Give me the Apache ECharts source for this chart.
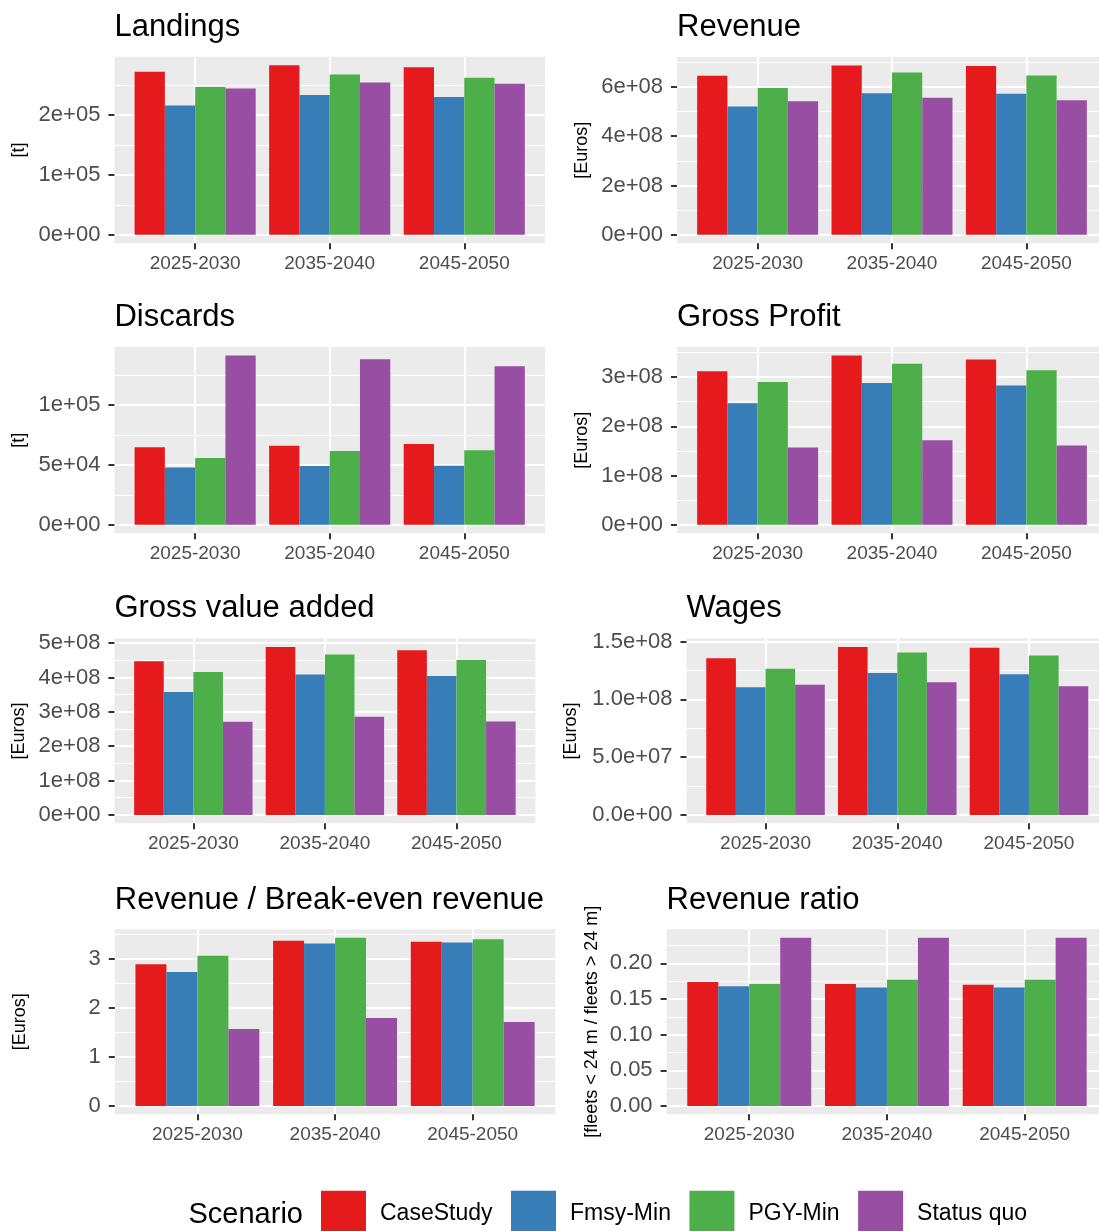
<!DOCTYPE html>
<html><head><meta charset="utf-8">
<script src="https://cdn.jsdelivr.net/npm/echarts@6/dist/echarts.min.js"></script>
<style>html,body{margin:0;padding:0;background:#fff;overflow:hidden;width:1099px;height:1231px}#c{width:1120px;height:1245px}</style>
</head><body><div id="c"></div>
<script>
// ---- data ----
const periods = ['2025-2030', '2035-2040', '2045-2050'];
const scenarios = ['CaseStudy', 'Fmsy-Min', 'PGY-Min', 'Status quo'];

// rows: CaseStudy, Fmsy-Min, PGY-Min, Status quo ; columns: periods
const landings = [[271800, 282900, 279600], [215500, 233100, 229800], [246400, 267400, 261900], [244200, 254100, 251900]];
const revenue = [[6.456e8, 6.87e8, 6.85e8], [5.21e8, 5.74e8, 5.72e8], [5.96e8, 6.58e8, 6.46e8], [5.42e8, 5.56e8, 5.46e8]];
const discards = [[64700, 66100, 67500], [47800, 49200, 49400], [55800, 61700, 62200], [141400, 138300, 132500]];
const grossProfit = [[3.12e8, 3.44e8, 3.36e8], [2.47e8, 2.88e8, 2.83e8], [2.90e8, 3.27e8, 3.14e8], [1.57e8, 1.72e8, 1.61e8]];
const grossValueAdded = [[4.47e8, 4.89e8, 4.79e8], [3.58e8, 4.09e8, 4.04e8], [4.16e8, 4.67e8, 4.51e8], [2.71e8, 2.86e8, 2.72e8]];
const wages = [[1.355e8, 1.454e8, 1.446e8], [1.104e8, 1.229e8, 1.218e8], [1.264e8, 1.406e8, 1.380e8], [1.127e8, 1.147e8, 1.113e8]];
const revenueBreakEven = [[2.89, 3.37, 3.35], [2.73, 3.31, 3.33], [3.06, 3.43, 3.40], [1.57, 1.79, 1.71]];
const revenueRatio = [[0.174, 0.171, 0.170], [0.168, 0.166, 0.166], [0.171, 0.177, 0.177], [0.236, 0.236, 0.236]];

// tick values and labels
const landingsTicks = [0, 1e5, 2e5];
const landingsLabels = ['0e+00', '1e+05', '2e+05'];
const revenueTicks = [0, 2e8, 4e8, 6e8];
const revenueLabels = ['0e+00', '2e+08', '4e+08', '6e+08'];
const discardsTicks = [0, 5e4, 1e5];
const discardsLabels = ['0e+00', '5e+04', '1e+05'];
const profitTicks = [0, 1e8, 2e8, 3e8];
const profitLabels = ['0e+00', '1e+08', '2e+08', '3e+08'];
const gvaTicks = [0, 1e8, 2e8, 3e8, 4e8, 5e8];
const gvaLabels = ['0e+00', '1e+08', '2e+08', '3e+08', '4e+08', '5e+08'];
const wagesTicks = [0, 5e7, 1e8, 1.5e8];
const wagesLabels = ['0.0e+00', '5.0e+07', '1.0e+08', '1.5e+08'];
const breakEvenTicks = [0, 1, 2, 3];
const breakEvenLabels = ['0', '1', '2', '3'];
const ratioTicks = [0, 0.05, 0.10, 0.15, 0.20];
const ratioLabels = ['0.00', '0.05', '0.10', '0.15', '0.20'];

// ---- layout ----
const panels = [
  {title: 'Landings', unit: '[t]', values: landings, ticks: landingsTicks, labels: landingsLabels, g: [114.4, 56.7, 430.6, 186.6], nameGap: 86},
  {title: 'Revenue', unit: '[Euros]', values: revenue, ticks: revenueTicks, labels: revenueLabels, g: [677, 57.0, 430, 186.3], nameGap: 86},
  {title: 'Discards', unit: '[t]', values: discards, ticks: discardsTicks, labels: discardsLabels, g: [114.4, 347.0, 430.6, 186.3], nameGap: 86},
  {title: 'Gross Profit', unit: '[Euros]', values: grossProfit, ticks: profitTicks, labels: profitLabels, g: [677, 347.0, 430, 186.3], nameGap: 86},
  {title: 'Gross value added', unit: '[Euros]', values: grossValueAdded, ticks: gvaTicks, labels: gvaLabels, g: [114.4, 638.5, 421, 184.8], nameGap: 86},
  {title: 'Wages', unit: '[Euros]', values: wages, ticks: wagesTicks, labels: wagesLabels, g: [686.5, 638.5, 421.5, 184.8], nameGap: 106},
  {title: 'Revenue / Break-even revenue', unit: '[Euros]', values: revenueBreakEven, ticks: breakEvenTicks, labels: breakEvenLabels, g: [114.8, 929.3, 440.5, 185], nameGap: 86},
  {title: 'Revenue ratio', unit: '[fleets < 24 m / fleets > 24 m]', values: revenueRatio, ticks: ratioTicks, labels: ratioLabels, g: [666.6, 929.3, 440.7, 185], nameGap: 66}
];
const titleTops = [12.3, 12.3, 302.3, 302.3, 593.2, 593.2, 885.3, 885.3];

const FONT = '"Liberation Sans", Arial, sans-serif';
const colors = ['#E41A1C', '#377EB8', '#4DAF4A', '#984EA3'];
const tickStyle = {color: '#333333', width: 2};

const option = {
  animation: false,
  backgroundColor: '#ffffff',
  color: colors,
  textStyle: {fontFamily: FONT},
  title: [],
  grid: [],
  xAxis: [],
  yAxis: [],
  series: [],
  legend: {
    data: scenarios,
    left: 321, top: 1190.7,
    orient: 'horizontal',
    itemWidth: 45, itemHeight: 45, itemGap: 18.5,
    icon: 'rect',
    selectedMode: false,
    padding: 0,
    textStyle: {fontSize: 23, color: '#000000', fontFamily: FONT, padding: [0, 0, 0, 9]}
  }
};

panels.forEach(function (p, i) {
  const all = [].concat.apply([], p.values);
  const m = Math.max.apply(null, all);
  const ymin = -0.05 * m, ymax = 1.05 * m;
  const step = p.ticks[1] - p.ticks[0];
  const minors = [];
  for (let k = -1; k < p.ticks.length; k++) {
    const v = p.ticks[0] + step * (k + 0.5);
    if (v > ymin && v < ymax) minors.push(v);
  }
  option.title.push({
    text: p.title, left: p.g[0], top: titleTops[i], padding: 0,
    textStyle: {fontSize: 31, fontWeight: 'normal', color: '#000000', fontFamily: FONT}
  });
  option.grid.push({
    left: p.g[0], top: p.g[1], width: p.g[2], height: p.g[3],
    show: true, backgroundColor: '#EBEBEB', borderWidth: 0, containLabel: false,
    outerBoundsMode: 'none'
  });
  option.xAxis.push({
    type: 'value', gridIndex: i, min: 0.4, max: 3.6,
    axisLine: {show: false, onZero: false},
    axisTick: {show: true, customValues: [1, 2, 3], length: 6, lineStyle: tickStyle},
    axisLabel: {
      customValues: [1, 2, 3], fontSize: 19, color: '#4D4D4D', margin: 11, fontFamily: FONT,
      formatter: function (v) { return periods[Math.round(v) - 1]; }
    },
    splitLine: {show: true, lineStyle: {color: '#ffffff', width: 2}},
    minorSplitLine: {show: false}
  });
  option.yAxis.push({
    type: 'value', gridIndex: i, min: ymin, max: ymax,
    name: p.unit, nameLocation: 'middle', nameGap: p.nameGap,
    nameTextStyle: {fontSize: 18, color: '#000000', fontFamily: FONT},
    axisLine: {show: false, onZero: false},
    axisTick: {show: true, customValues: p.ticks, length: 6, lineStyle: tickStyle},
    axisLabel: {
      customValues: p.ticks, fontSize: 22, color: '#4D4D4D', margin: 14, fontFamily: FONT,
      formatter: function (v) {
        for (let k = 0; k < p.ticks.length; k++) {
          if (Math.abs(p.ticks[k] - v) < step * 1e-6) return p.labels[k];
        }
        return '';
      }
    },
    splitLine: {show: true, lineStyle: {color: '#ffffff', width: 2}}
  });
  option.yAxis.push({
    type: 'value', gridIndex: i, min: ymin, max: ymax,
    axisLine: {show: false, onZero: false},
    axisTick: {show: false, customValues: minors},
    axisLabel: {show: false, customValues: minors},
    splitLine: {show: true, lineStyle: {color: '#ffffff', width: 1.1}}
  });
  scenarios.forEach(function (s, j) {
    option.series.push({
      type: 'bar', name: s,
      xAxisIndex: i, yAxisIndex: 2 * i,
      data: periods.map(function (per, k) { return [k + 1, p.values[j][k]]; }),
      barGap: '0%', barCategoryGap: '10%',
      itemStyle: {color: colors[j]},
      silent: true,
      emphasis: {disabled: true}
    });
  });
});

option.title.push({
  text: 'Scenario', left: 188.5, top: 1200.5, padding: 0,
  textStyle: {fontSize: 29, fontWeight: 'normal', color: '#000000', fontFamily: FONT}
});

const chart = echarts.init(document.getElementById('c'), null, {renderer: 'canvas'});
chart.setOption(option);
</script>
</body></html>
